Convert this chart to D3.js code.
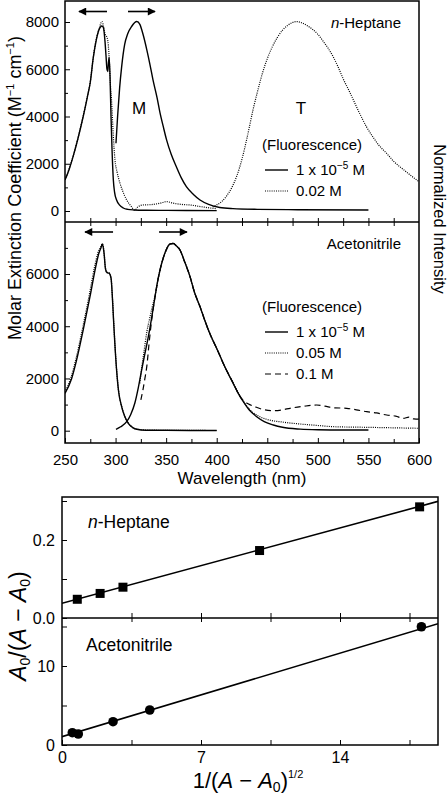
<!DOCTYPE html>
<html><head><meta charset="utf-8">
<script src="https://cdn.jsdelivr.net/npm/d3@7"></script>
<style>
body{margin:0;background:#fff}
svg{display:block}
text{font-family:"Liberation Sans",Arial,Helvetica,sans-serif;fill:#000}
</style>
</head><body>
<svg id="chart" width="448" height="795"></svg>
<script>
// ---------------- DATA ----------------
const wavelengthTicks = [250,300,350,400,450,500,550,600];
const wavelengthMinor = [275,325,375,425,475,525,575];
const heptaneYTicks = [0,2000,4000,6000,8000];
const acnYTicks = [0,2000,4000,6000];

// n-Heptane, absorption 1e-5 M (solid)
const heptaneAbsDilute = [[250,1310],[254,1750],[258,2300],[263,3100],[268,4000],[272,4800],[275,5450],[278,6500],[281,7250],[283,7600],[285,7780],[286.5,7830],[288,7760],[289.5,7200],[290.5,6600],[291.5,6000],[292.3,5900],[293,6300],[293.7,6500],[294.5,5700],[295.5,4000],[296.5,2600],[297.8,1310],[299,800],[301,466],[304,250],[307.6,127],[312,70],[318,45],[330,30],[350,25],[370,20],[400,15]];
// n-Heptane, absorption 0.02 M (dotted)
const heptaneAbsConc = [[250,1330],[254,1780],[258,2320],[263,3120],[268,4020],[272,4820],[275,5470],[278,6520],[281,7300],[284,7760],[286.5,8020],[288,7850],[289.5,7500],[291,7400],[292.5,7150],[294,6200],[295,5300],[296,4700],[297.5,3400],[299.4,2160],[301.5,1650],[304.4,1170],[307,850],[311,466],[315,220],[319,40],[322,170],[327,254],[335,270],[343,320],[350.5,394],[357,330],[365,280],[373.6,254],[385,180],[395,120],[400,100]];
// n-Heptane, fluorescence 1e-5 M (solid, band M)
const heptaneFluorDilute = [[300.4,2870],[302,4000],[304,5200],[306,6100],[309,7050],[312,7500],[316,7820],[321,8020],[324,7900],[327,7500],[331,6800],[334,6200],[337,5550],[341,4800],[344,4140],[347,3600],[350.5,3000],[355,2400],[360,1880],[365,1400],[370,1030],[377,700],[383.5,466],[392,280],[403,150],[416,100],[440,70],[480,55],[550,45]];
// n-Heptane, fluorescence 0.02 M (dotted, band T)
const heptaneFluorConc = [[396,170],[400,260],[405,400],[410,650],[415,1000],[420,1500],[425,2200],[430,3100],[436,4300],[440,5000],[445,5800],[450,6450],[455,6950],[460,7350],[465,7650],[470,7850],[475,7980],[479,8020],[485,7950],[490,7830],[495,7680],[500,7480],[505,7200],[510,6900],[515,6540],[520,6100],[525,5600],[532,4990],[540,4250],[548,3570],[555,3100],[560,2800],[568,2440],[575,2100],[585,1740],[592,1500],[600,1240]];

// Acetonitrile, absorption 1e-5 M (solid)
const acnAbsDilute = [[250,1430],[256.6,2000],[261.5,2710],[268,3860],[274.7,5130],[279.7,6150],[283,6730],[285.5,7000],[287,7150],[288.6,6800],[290,6200],[291.5,6050],[293.5,6030],[295.5,5840],[297,5000],[298,4240],[301,2330],[303,1500],[306,920],[309,550],[312.6,283],[317,120],[321,54],[330,20],[350,15],[375,10],[400,8]];
// Acetonitrile, absorption 0.05 M (dotted)
const acnAbsConc = [[250,1480],[256,2050],[261,2780],[267.5,3950],[274,5200],[279,6230],[282.5,6800],[285.5,7050],[287,7160],[288.6,6820],[290,6230],[291.5,6070],[293.5,6050],[295.5,5860],[297,5020],[298,4260],[301,2350],[303,1520],[306,940],[309,560],[312.6,290],[317,125],[321,60],[330,25],[350,15],[375,10],[400,8]];
// Acetonitrile, fluorescence 1e-5 M (solid)
const acnFluorDilute = [[300.4,54],[305,150],[311,345],[315,620],[319,1050],[322.5,1650],[325.8,2330],[329,2950],[332.4,3600],[336,4400],[339,5130],[342,5800],[345.6,6410],[349,6820],[353.8,7150],[357,7170],[360,7080],[363.7,6920],[368,6500],[373.6,5900],[378,5300],[383.5,4750],[388,4250],[393.4,3700],[400,3150],[408,2450],[416.4,1800],[421,1450],[426.3,1110],[432,800],[439.5,536],[447,350],[456,218],[465,130],[482.6,60],[500,35],[525,25],[550,25]];
// Acetonitrile, fluorescence 0.05 M (dotted)
const acnFluorMid = [[324,1810],[326,2450],[328,3000],[331,3800],[334,4350],[336,4700],[339,5150],[342,5800],[345.6,6410],[349,6820],[353.8,7150],[357,7170],[360,7080],[363.7,6920],[368,6500],[373.6,5900],[378,5300],[383.5,4750],[388,4250],[393.4,3700],[400,3150],[408,2450],[416.4,1820],[421,1470],[426.3,1130],[432,830],[439.5,600],[449.4,436],[465,330],[482.6,256],[500,200],[515.6,153],[548,130],[575,110],[600,92]];
// Acetonitrile, fluorescence 0.1 M (dashed)
const acnFluorConc = [[325,1180],[327,1550],[329,2000],[331,2500],[333,3300],[335.7,4240],[339,5130],[342,5800],[345.6,6410],[349,6820],[353.8,7150],[357,7170],[360,7080],[363.7,6920],[368,6500],[373.6,5900],[378,5300],[383.5,4750],[388,4250],[393.4,3700],[400,3150],[408,2450],[416.4,1820],[421,1450],[425.6,1180],[431,1030],[437.8,920],[445,820],[456,766],[465,800],[472.5,858],[485,930],[498.8,985],[507,940],[515.3,880],[528.5,858],[538,800],[548.3,728],[558,680],[568,600],[577,560],[584.5,475],[590,520],[595,450],[600,440]];

// Arrows [from, to] in wavelength
const heptaneArrows = [[291.5,263.8],[312.3,339]];
const acnArrows = [[297.5,269.8],[343,370.6]];

// Benesi-Hildebrand-type plots
const bhXTicks = [0,7,14];
const bhXMinor = [3.5,10.5,17.5];
const heptaneBHx = [0.77,1.92,3.07,9.95,18.01];
const heptaneBHy = [0.048,0.063,0.079,0.173,0.285];
const heptaneFit = {intercept:0.0377, slope:0.0138};
const acnBHx = [0.52,0.82,2.57,4.42,18.1];
const acnBHy = [1.56,1.39,2.95,4.43,14.97];
const acnFit = {intercept:1.05, slope:0.755};

// ---------------- DRAW ----------------
const svg = d3.select("#chart");
const FS = 15;

// Spectra layout
const L = 65, R = 419, T1 = 1, M1 = 222, B1 = 443;
const x = d3.scaleLinear().domain([250,600]).range([L,R]);
const yH = d3.scaleLinear().domain([0,8000]).range([211,22]);
const yA = d3.scaleLinear().domain([0,6000]).range([430.7,274]);

const defs = svg.append("defs");
defs.append("clipPath").attr("id","clipH").append("rect").attr("x",L).attr("y",T1).attr("width",R-L).attr("height",M1-T1);
defs.append("clipPath").attr("id","clipA").append("rect").attr("x",L).attr("y",M1).attr("width",R-L).attr("height",B1-M1);
defs.append("marker").attr("id","ah").attr("viewBox","0 0 10 10").attr("refX",9).attr("refY",5)
  .attr("markerWidth",9).attr("markerHeight",8).attr("markerUnits","userSpaceOnUse").attr("orient","auto")
  .append("path").attr("d","M0,0 L10,5 L0,10 Z").attr("fill","#000");

function drawLine(g, data, yS, style){
  const line = d3.line().x(d=>x(d[0])).y(d=>yS(d[1])).curve(d3.curveMonotoneX);
  const p = g.append("path").datum(data).attr("d",line).attr("fill","none").attr("stroke","#000")
    .attr("stroke-width", style==="solid"?1.4:1.2).attr("stroke-linejoin","round");
  if(style==="dot") p.attr("stroke-dasharray","1,1.2");
  if(style==="dash") p.attr("stroke-dasharray","6,4");
}

const gH = svg.append("g").attr("clip-path","url(#clipH)");
drawLine(gH, heptaneAbsConc, yH, "dot");
drawLine(gH, heptaneFluorConc, yH, "dot");
drawLine(gH, heptaneAbsDilute, yH, "solid");
drawLine(gH, heptaneFluorDilute, yH, "solid");

const gA = svg.append("g").attr("clip-path","url(#clipA)");
drawLine(gA, acnAbsConc, yA, "dot");
drawLine(gA, acnFluorMid, yA, "dot");
drawLine(gA, acnFluorConc, yA, "dash");
drawLine(gA, acnAbsDilute, yA, "solid");
drawLine(gA, acnFluorDilute, yA, "solid");

// arrows
function arrows(list, yPix){
  list.forEach(a=>{
    svg.append("line").attr("x1",x(a[0])).attr("x2",x(a[1])).attr("y1",yPix).attr("y2",yPix)
      .attr("stroke","#000").attr("stroke-width",1.6).attr("marker-end","url(#ah)");
  });
}
arrows(heptaneArrows, 11.5);
arrows(acnArrows, 232);

// Axes spectra
function leftAxis(yS, major, top, bottom){
  const minor = [];
  for(let v=1000; v<=yS.invert(top); v+=2000) minor.push(v);
  svg.append("g").attr("transform",`translate(${L},0)`)
    .call(d3.axisLeft(yS).tickValues(major).tickSize(-5).tickPadding(6).tickFormat(d3.format("d")))
    .call(g=>g.select(".domain").remove())
    .call(g=>g.selectAll("text").attr("font-size",FS).attr("font-family",null));
  svg.append("g").attr("transform",`translate(${L},0)`)
    .call(d3.axisLeft(yS).tickValues(minor.filter(v=>yS(v)>top && yS(v)<bottom)).tickSize(-3).tickFormat(""))
    .call(g=>g.select(".domain").remove());
}
leftAxis(yH, heptaneYTicks, T1, M1);
leftAxis(yA, acnYTicks, M1, B1);

const allW = wavelengthTicks.concat(wavelengthMinor);
svg.append("g").attr("transform",`translate(0,${B1})`)
  .call(d3.axisBottom(x).tickValues(wavelengthTicks).tickSize(-5).tickPadding(11))
  .call(g=>g.select(".domain").remove())
  .call(g=>g.selectAll("text").attr("font-size",FS).attr("font-family",null));
svg.append("g").attr("transform",`translate(0,${B1})`)
  .call(d3.axisBottom(x).tickValues(wavelengthMinor).tickSize(-4).tickFormat(""))
  .call(g=>g.select(".domain").remove());
// divider ticks both sides
svg.append("g").attr("transform",`translate(0,${M1})`)
  .call(d3.axisBottom(x).tickValues(allW.filter(v=>v>250&&v<600)).tickSize(-4).tickFormat(""))
  .call(g=>g.select(".domain").remove());
svg.append("g").attr("transform",`translate(0,${M1})`)
  .call(d3.axisBottom(x).tickValues(allW.filter(v=>v>250&&v<600)).tickSize(4).tickFormat(""))
  .call(g=>g.select(".domain").remove());

// frames
svg.append("rect").attr("x",L).attr("y",T1).attr("width",R-L).attr("height",B1-T1)
  .attr("fill","none").attr("stroke","#000").attr("stroke-width",1.5);
svg.append("line").attr("x1",L).attr("x2",R).attr("y1",M1).attr("y2",M1).attr("stroke","#000").attr("stroke-width",1.5);

// texts spectra
svg.append("text").attr("x",401).attr("y",28).attr("text-anchor","end").attr("font-size",FS)
  .html('<tspan font-style="italic">n</tspan>-Heptane');
svg.append("text").attr("x",139).attr("y",114).attr("text-anchor","middle").attr("font-size",17).text("M");
svg.append("text").attr("x",301).attr("y",114).attr("text-anchor","middle").attr("font-size",17).text("T");
svg.append("text").attr("x",401).attr("y",249).attr("text-anchor","end").attr("font-size",FS).text("Acetonitrile");

function legend(items, titleY, x0){
  svg.append("text").attr("x",x0-3).attr("y",titleY).attr("font-size",FS).text("(Fluorescence)");
  items.forEach((it,i)=>{
    const yb = titleY + 25 + i*21;
    const ln = svg.append("line").attr("x1",x0).attr("x2",x0+23).attr("y1",yb-5).attr("y2",yb-5)
      .attr("stroke","#000").attr("stroke-width",it.s==="solid"?1.4:1.2);
    if(it.s==="dot") ln.attr("stroke-dasharray","1,1.2");
    if(it.s==="dash") ln.attr("stroke-dasharray","6,4");
    svg.append("text").attr("x",x0+31).attr("y",yb).attr("font-size",FS).html(it.t);
  });
}
const supLabel = '1 x 10<tspan dy="-6" font-size="10">−5</tspan><tspan dy="6"> M</tspan>';
legend([{s:"solid",t:supLabel},{s:"dot",t:"0.02 M"}], 150, 265);
legend([{s:"solid",t:supLabel},{s:"dot",t:"0.05 M"},{s:"dash",t:"0.1 M"}], 312, 265);

// axis titles spectra
svg.append("text").attr("transform","translate(21,188) rotate(-90)").attr("text-anchor","middle").attr("font-size",18)
  .html('Molar Extinction Coefficient (M<tspan dy="-7" font-size="11">−1</tspan><tspan dy="7">  cm</tspan><tspan dy="-7" font-size="11">−1</tspan><tspan dy="7">)</tspan>');
svg.append("text").attr("transform","translate(434,219) rotate(90)").attr("text-anchor","middle").attr("font-size",16.5)
  .text("Normalized Intensity");
svg.append("text").attr("x",242).attr("y",484).attr("text-anchor","middle").attr("font-size",17).text("Wavelength (nm)");

// ---------------- Bottom chart ----------------
const bL = 62, bR = 438, bT = 497, bM = 618, bB = 745;
const xb = d3.scaleLinear().domain([0,14]).range([bL,340]);
const yb1 = d3.scaleLinear().domain([0,0.2]).range([bM,540]);
const yb2 = d3.scaleLinear().domain([0,10]).range([bB,666]);
const xMax = xb.invert(bR);
const FSB = 16;

defs.append("clipPath").attr("id","clipB1").append("rect").attr("x",bL).attr("y",bT).attr("width",bR-bL).attr("height",bM-bT);
defs.append("clipPath").attr("id","clipB2").append("rect").attr("x",bL).attr("y",bM).attr("width",bR-bL).attr("height",bB-bM);

const g1 = svg.append("g").attr("clip-path","url(#clipB1)");
g1.append("line").attr("x1",xb(0)).attr("x2",xb(xMax))
  .attr("y1",yb1(heptaneFit.intercept)).attr("y2",yb1(heptaneFit.intercept+heptaneFit.slope*xMax))
  .attr("stroke","#000").attr("stroke-width",1.6);
g1.selectAll("rect.pt").data(heptaneBHx).join("rect").attr("class","pt")
  .attr("x",(d)=>xb(d)-4.5).attr("y",(d,i)=>yb1(heptaneBHy[i])-4.5).attr("width",9).attr("height",9).attr("fill","#000");

const g2 = svg.append("g").attr("clip-path","url(#clipB2)");
g2.append("line").attr("x1",xb(0)).attr("x2",xb(xMax))
  .attr("y1",yb2(acnFit.intercept)).attr("y2",yb2(acnFit.intercept+acnFit.slope*xMax))
  .attr("stroke","#000").attr("stroke-width",1.6);
g2.selectAll("circle.pt").data(acnBHx).join("circle").attr("class","pt")
  .attr("cx",d=>xb(d)).attr("cy",(d,i)=>yb2(acnBHy[i])).attr("r",4.8).attr("fill","#000");

// bottom axes
function bLeft(yS, major, minor, fmt){
  svg.append("g").attr("transform",`translate(${bL},0)`)
    .call(d3.axisLeft(yS).tickValues(major).tickSize(-5).tickPadding(7).tickFormat(fmt))
    .call(g=>g.select(".domain").remove())
    .call(g=>g.selectAll("text").attr("font-size",FSB).attr("font-family",null));
  svg.append("g").attr("transform",`translate(${bL},0)`)
    .call(d3.axisLeft(yS).tickValues(minor).tickSize(-5).tickFormat(""))
    .call(g=>g.select(".domain").remove());
}
bLeft(yb1, [0,0.2], [0.1,0.3], d3.format(".1f"));
bLeft(yb2, [0,10], [5,15], d3.format("d"));

svg.append("g").attr("transform",`translate(0,${bB})`)
  .call(d3.axisBottom(xb).tickValues(bhXTicks).tickSize(-5).tickPadding(7).tickFormat(d3.format("d")))
  .call(g=>g.select(".domain").remove())
  .call(g=>g.selectAll("text").attr("font-size",FSB).attr("font-family",null));
svg.append("g").attr("transform",`translate(0,${bB})`)
  .call(d3.axisBottom(xb).tickValues(bhXMinor).tickSize(-5).tickFormat(""))
  .call(g=>g.select(".domain").remove());
const divT = bhXTicks.concat(bhXMinor).filter(v=>v>0);
svg.append("g").attr("transform",`translate(0,${bM})`)
  .call(d3.axisBottom(xb).tickValues(divT).tickSize(-5).tickFormat(""))
  .call(g=>g.select(".domain").remove());
svg.append("g").attr("transform",`translate(0,${bM})`)
  .call(d3.axisBottom(xb).tickValues(divT).tickSize(4).tickFormat(""))
  .call(g=>g.select(".domain").remove());

svg.append("rect").attr("x",bL).attr("y",bT).attr("width",bR-bL).attr("height",bB-bT)
  .attr("fill","none").attr("stroke","#000").attr("stroke-width",1.5);
svg.append("line").attr("x1",bL).attr("x2",bR).attr("y1",bM).attr("y2",bM).attr("stroke","#000").attr("stroke-width",1.5);

svg.append("text").attr("x",88).attr("y",528).attr("font-size",17.5)
  .html('<tspan font-style="italic">n</tspan>-Heptane');
svg.append("text").attr("x",86).attr("y",651).attr("font-size",17.5).text("Acetonitrile");

svg.append("text").attr("transform","translate(26,626) rotate(-90)").attr("text-anchor","middle").attr("font-size",23)
  .html('<tspan font-style="italic">A</tspan><tspan dy="4" font-size="14">0</tspan><tspan dy="-4">/(</tspan><tspan font-style="italic">A</tspan> − <tspan font-style="italic">A</tspan><tspan dy="4" font-size="14">0</tspan><tspan dy="-4">)</tspan>');
svg.append("text").attr("x",248).attr("y",788).attr("text-anchor","middle").attr("font-size",22)
  .html('1/(<tspan font-style="italic">A</tspan> − <tspan font-style="italic">A</tspan><tspan dy="4" font-size="14">0</tspan><tspan dy="-4">)</tspan><tspan dy="-10" font-size="11">1/2</tspan>');
</script>
</body></html>
